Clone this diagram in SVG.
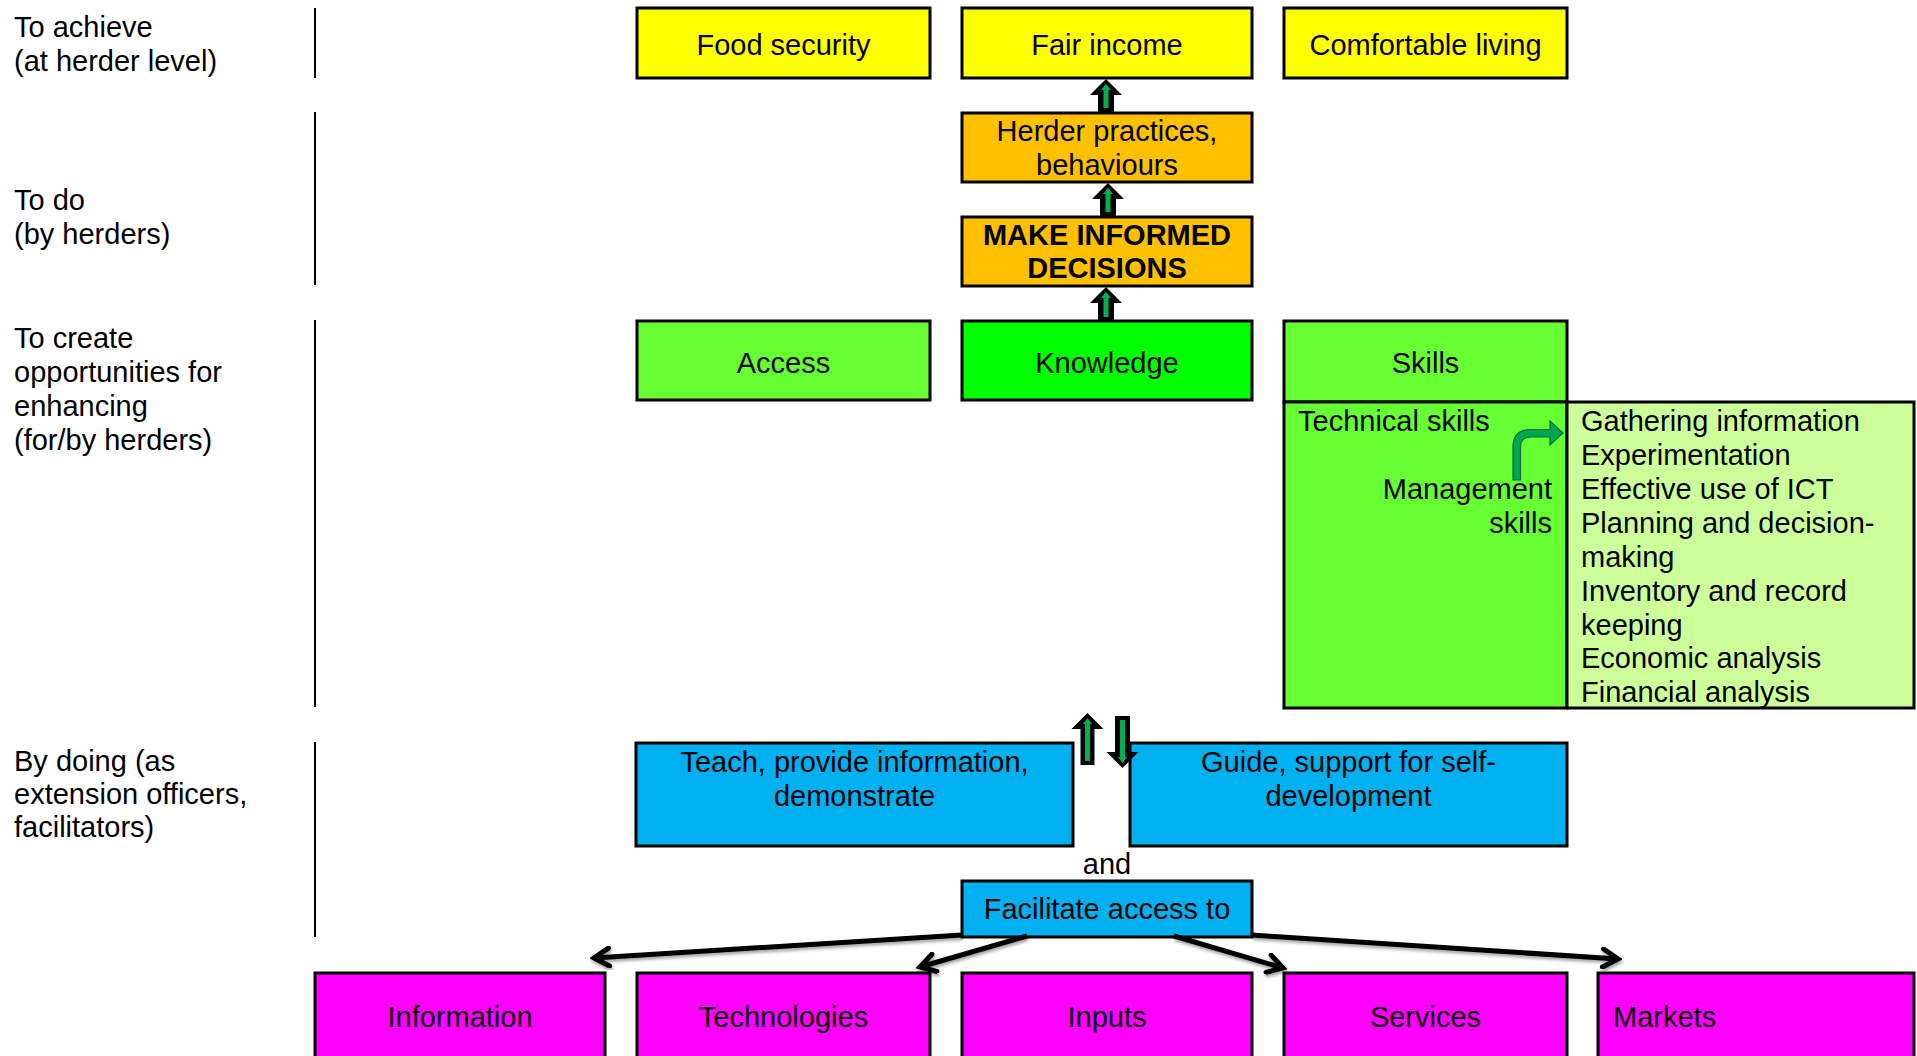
<svg xmlns="http://www.w3.org/2000/svg" width="1917" height="1056" viewBox="0 0 1917 1056">
<style>
text{font-family:"Liberation Sans",Arial,sans-serif;font-size:29px;fill:#000}
.c{text-anchor:middle}
.r{text-anchor:end}
.b{font-weight:bold}
.box{stroke:#000;stroke-width:3}
.yel{fill:#FFFF00}
.org{fill:#FFC000}
.grn{fill:#66FF33}
.kgr{fill:#00FF00}
.lgr{fill:#CCFF99}
.blu{fill:#00B0F0}
.mag{fill:#FF00FF}
.sep{stroke:#000;stroke-width:2}
.bo{fill:#000}
.bi{fill:#00B050}
.con{stroke:#000;stroke-width:5;fill:none;marker-end:url(#chev);filter:url(#sh)}
</style>
<defs>
<marker id="chev" viewBox="0 0 22 22" refX="18" refY="11" markerWidth="22" markerHeight="22" markerUnits="userSpaceOnUse" orient="auto">
<path d="M3,2 L18,11 L3,20" fill="none" stroke="#000" stroke-width="5" stroke-linecap="round"/>
</marker>
<filter id="sh" x="-10%" y="-50%" width="120%" height="200%">
<feDropShadow dx="1" dy="2.5" stdDeviation="1.5" flood-color="#000" flood-opacity="0.35"/>
</filter>
</defs>
<rect width="1917" height="1056" fill="#fff"/>

<g id="row-labels">
<text x="14" y="37">To achieve</text>
<text x="14" y="71">(at herder level)</text>
<text x="14" y="210">To do</text>
<text x="14" y="244">(by herders)</text>
<text x="14" y="348">To create</text>
<text x="14" y="382">opportunities for</text>
<text x="14" y="416">enhancing</text>
<text x="14" y="450">(for/by herders)</text>
<text x="14" y="771">By doing (as</text>
<text x="14" y="804">extension officers,</text>
<text x="14" y="837">facilitators)</text>
<line class="sep" x1="315" y1="8" x2="315" y2="78"/>
<line class="sep" x1="315" y1="112" x2="315" y2="285"/>
<line class="sep" x1="315" y1="320" x2="315" y2="707"/>
<line class="sep" x1="315" y1="742" x2="315" y2="937"/>
</g>

<g id="food-security"><rect class="box yel" x="637" y="8" width="293" height="70"/><text class="c" x="783.5" y="54.5">Food security</text></g>
<g id="fair-income"><rect class="box yel" x="962" y="8" width="290" height="70"/><text class="c" x="1107" y="54.5">Fair income</text></g>
<g id="comfortable-living"><rect class="box yel" x="1284" y="8" width="283" height="70"/><text class="c" x="1425.5" y="54.5">Comfortable living</text></g>

<g id="herder-practices"><rect class="box org" x="962" y="113" width="290" height="69"/><text class="c" x="1107" y="141">Herder practices,</text><text class="c" x="1107" y="174.5">behaviours</text></g>
<g id="make-informed"><rect class="box org" x="962" y="217" width="290" height="69"/><text class="c b" x="1107" y="244.5">MAKE INFORMED</text><text class="c b" x="1107" y="278">DECISIONS</text></g>

<g id="access"><rect class="box grn" x="637" y="321" width="293" height="79"/><text class="c" x="783.5" y="372.5">Access</text></g>
<g id="knowledge"><rect class="box kgr" x="962" y="321" width="290" height="79"/><text class="c" x="1107" y="372.5">Knowledge</text></g>
<g id="skills">
<rect class="box grn" x="1284" y="321" width="283" height="81"/><text class="c" x="1425.5" y="372.5">Skills</text>
<rect class="box grn" x="1284" y="402" width="283" height="306"/>
<text x="1298" y="431">Technical skills</text>
<text class="r" x="1552" y="499">Management</text>
<text class="r" x="1552" y="533">skills</text>
<path d="M1513,480 L1513,447 Q1513,429.5 1531,429.5 L1550,429.5 L1550,421 L1563,433 L1550,445 L1550,437 L1531,437 Q1520.5,437 1520.5,447 L1520.5,480 Z" fill="#00A650" stroke="#006B33" stroke-width="1.2"/>
</g>
<g id="skills-list">
<rect class="box lgr" x="1567" y="402" width="347" height="306"/>
<text x="1581" y="431">Gathering information</text>
<text x="1581" y="465">Experimentation</text>
<text x="1581" y="499">Effective use of ICT</text>
<text x="1581" y="533">Planning and decision-</text>
<text x="1581" y="567">making</text>
<text x="1581" y="601">Inventory and record</text>
<text x="1581" y="635">keeping</text>
<text x="1581" y="668">Economic analysis</text>
<text x="1581" y="702">Financial analysis</text>
</g>

<g id="teach"><rect class="box blu" x="636" y="743" width="437" height="103"/><text class="c" x="854.5" y="771.5">Teach, provide information,</text><text class="c" x="854.5" y="805.5">demonstrate</text></g>
<g id="guide"><rect class="box blu" x="1130" y="743" width="437" height="103"/><text class="c" x="1348.5" y="771.5">Guide, support for self-</text><text class="c" x="1348.5" y="805.5">development</text></g>

<g id="and-label"><text class="c" x="1107" y="874">and</text></g>
<g id="facilitate"><rect class="box blu" x="962" y="881" width="290" height="56"/><text class="c" x="1107" y="919">Facilitate access to</text></g>

<g id="information"><rect class="box mag" x="315" y="973" width="290" height="100"/><text class="c" x="460" y="1026.5">Information</text></g>
<g id="technologies"><rect class="box mag" x="637" y="973" width="293" height="100"/><text class="c" x="783.5" y="1026.5">Technologies</text></g>
<g id="inputs"><rect class="box mag" x="962" y="973" width="290" height="100"/><text class="c" x="1107" y="1026.5">Inputs</text></g>
<g id="services"><rect class="box mag" x="1284" y="973" width="283" height="100"/><text class="c" x="1425.5" y="1026.5">Services</text></g>
<g id="markets"><rect class="box mag" x="1598" y="973" width="316" height="100"/><text x="1613" y="1026.5">Markets</text></g>

<g id="connectors">
<polygon class="bo" points="1106,79 1122,95 1114,95 1114,112 1098,112 1098,95 1090,95"/>
<polygon class="bi" points="1106,84 1111,90 1108.5,90 1108.5,108 1103.5,108 1103.5,90 1101,90"/>
<polygon class="bo" points="1108,183 1124,199 1116,199 1116,216 1100,216 1100,199 1092,199"/>
<polygon class="bi" points="1108,188 1113,194 1110.5,194 1110.5,212 1105.5,212 1105.5,194 1103,194"/>
<polygon class="bo" points="1106,287 1122,303 1114,303 1114,321 1098,321 1098,303 1090,303"/>
<polygon class="bi" points="1106,292 1111,298 1108.5,298 1108.5,317 1103.5,317 1103.5,298 1101,298"/>
<polygon class="bo" points="1087.5,713 1103.5,729 1094.5,729 1094.5,765 1080.5,765 1080.5,729 1071.5,729"/>
<polygon class="bi" points="1087.5,718 1092,724 1090,724 1090,761 1085,761 1085,724 1083,724"/>
<polygon class="bo" points="1122.5,768 1138.5,752 1130,752 1130,716 1115,716 1115,752 1106.5,752"/>
<polygon class="bi" points="1122.5,763 1127,757 1125,757 1125,720 1120,720 1120,757 1118,757"/>
<line class="con" x1="962" y1="935" x2="594" y2="958"/>
<line class="con" x1="1027" y1="936" x2="920" y2="967"/>
<line class="con" x1="1100" y1="937" x2="1100" y2="978"/>
<line class="con" x1="1174" y1="936" x2="1283" y2="968"/>
<line class="con" x1="1252" y1="935" x2="1618" y2="959"/>
</g>
</svg>
